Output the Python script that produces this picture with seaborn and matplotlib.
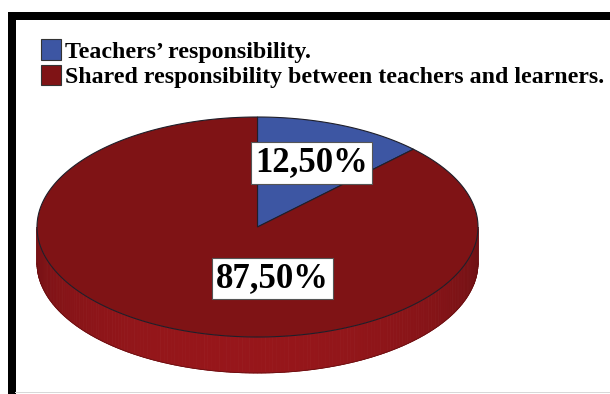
import numpy as np
import matplotlib
matplotlib.use("Agg")
import matplotlib.pyplot as plt
import seaborn as sns
from matplotlib.patches import Polygon, Rectangle, Patch
from matplotlib.colors import to_rgb

# ---- data ----
categories = ["Teachers\u2019 responsibility.",
              "Shared responsibility between teachers and learners."]
values = [12.5, 87.5]
top_colors = ["#3d56a3", "#7f1315"]
side_colors = ["#33488a", "#94161a"]

sns.set_theme(style="white")
plt.rcParams["font.family"] = ["Liberation Serif", "DejaVu Serif"]
plt.rcParams["text.color"] = "black"

W, H = 610, 394
fig = plt.figure(figsize=(W / 100, H / 100), dpi=100)
ax = fig.add_axes([0, 0, 1, 1])
ax.set_xlim(0, W)
ax.set_ylim(H, 0)
ax.axis("off")

# ---- pie geometry (pixel space) ----
cx, cy, rx, ry, depth = 257.5, 227.0, 220.5, 110.0, 36.0


def pt(theta_deg, dy=0.0):
    t = np.radians(theta_deg)
    return cx + rx * np.cos(t), cy - ry * np.sin(t) + dy


# slice angles: start at 12 o'clock, clockwise
total = sum(values)
starts, ends = [], []
a = 90.0
for v in values:
    span = 360.0 * v / total
    starts.append(a)
    ends.append(a - span)
    a -= span


def shade(col, f):
    r, g, b = to_rgb(col)
    return (min(r * f, 1), min(g * f, 1), min(b * f, 1))


# ---- side (front half) ----
step = 1.0
for i, (s, e) in enumerate(zip(starts, ends)):
    for off in (0, -360, 360):
        lo, hi = e + off, s + off
        a0, a1 = max(lo, -180), min(hi, 0)
        if a0 >= a1:
            continue
        t = a0
        while t < a1:
            t2 = min(t + step, a1)
            x1, y1 = pt(t)
            x2, y2 = pt(t2)
            mid = (t + t2) / 2
            f = 0.76 + 0.26 * max(0.0, np.cos(np.radians(mid + 95)))
            c = shade(side_colors[i], f)
            ax.add_patch(Polygon([(x1, y1), (x2, y2), (x2, y2 + depth), (x1, y1 + depth)],
                                 closed=True, facecolor=c, edgecolor=c, lw=0.6,
                                 zorder=2))
            t = t2

ths = np.linspace(-180, 0, 200)
ax.plot([pt(t, depth)[0] for t in ths], [pt(t, depth)[1] for t in ths],
        color="#6a0e10", lw=0.6, zorder=3)

# ---- top face wedges ----
for i, (s, e) in enumerate(zip(starts, ends)):
    ths = np.linspace(s, e, 300)
    pts = [(cx, cy)] + [pt(t) for t in ths]
    ax.add_patch(Polygon(pts, closed=True, facecolor=top_colors[i],
                         edgecolor="#1f1f2a", lw=0.8, zorder=4))

# ---- value labels ----
label_pos = [(311.5, 163.0), (272.5, 278.5)]
for v, (lx, ly) in zip(values, label_pos):
    txt = f"{v:.2f}%".replace(".", ",")
    ax.text(lx, ly, txt, ha="center", va="center", fontsize=25,
            fontweight="bold", color="black", zorder=6,
            bbox=dict(boxstyle="square,pad=0.12", facecolor="white",
                      edgecolor="#555555", lw=0.8))

# ---- legend ----
handles = [Patch(facecolor=top_colors[i], edgecolor="#333333", lw=0.8,
                 label=categories[i]) for i in range(len(values))]
leg = ax.legend(handles=handles, loc="upper left",
                bbox_to_anchor=(41 / W, 1 - 39.5 / H), frameon=False,
                prop=dict(family="Liberation Serif", weight="bold", size=17.2),
                handlelength=0.85, handleheight=0.92, handletextpad=0.17,
                labelspacing=0.09, borderaxespad=0, borderpad=0,
                labelcolor="black")

# ---- frame ----
ax.add_patch(Rectangle((8, 12), W - 8, 7.5, facecolor="black", edgecolor="none", zorder=10))
ax.add_patch(Rectangle((8, 12), 7.5, H - 12, facecolor="black", edgecolor="none", zorder=10))
ax.add_patch(Rectangle((15, 391.5), W - 15, 1.5, facecolor="#d8d8d8", edgecolor="none", zorder=10))

fig.savefig("out.png", dpi=100, facecolor="white")
